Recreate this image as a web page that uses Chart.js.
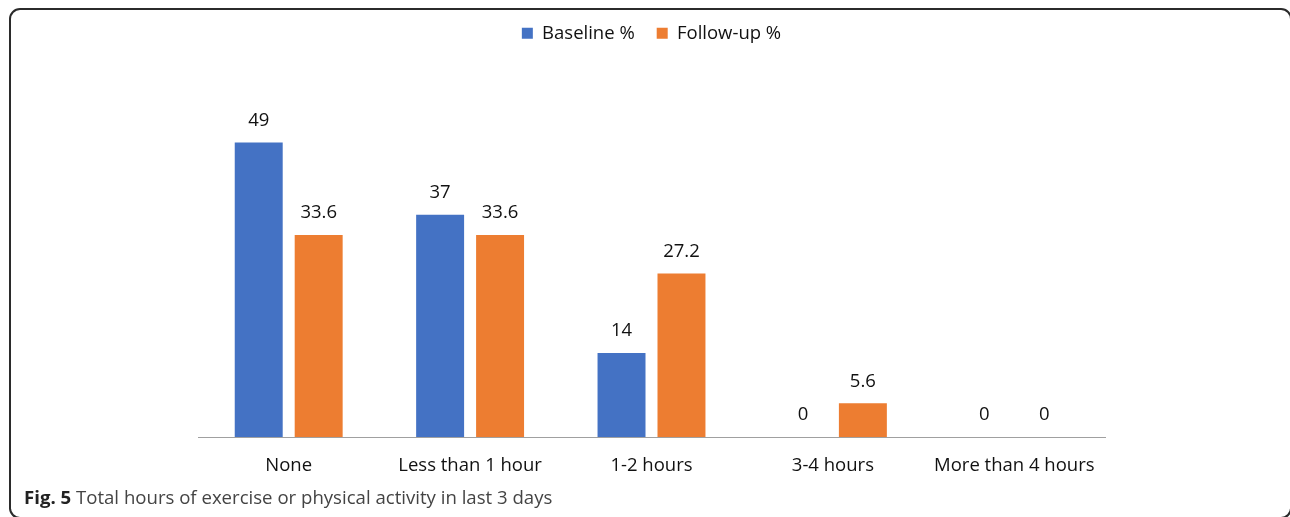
<!DOCTYPE html>
<html>
<head>
<meta charset="utf-8">
<script src="https://cdn.jsdelivr.net/npm/chart.js@4.4.1/dist/chart.umd.min.js"></script>
<style>
  html, body { margin: 0; padding: 0; background: #fff; }
  body { width: 1290px; height: 517px; position: relative; overflow: hidden; }
  .frame {
    position: absolute; left: 9px; top: 8px; width: 1283px; height: 511px;
    border: 2px solid #2b2b2b; border-radius: 11px; box-sizing: border-box;
  }
  #wrap { position: absolute; left: 0; top: 0; width: 1290px; height: 517px; }
  .caption {
    position: absolute; left: 24px; top: 484px;
    font-family: "Open Sans", sans-serif; font-size: 18.6px; color: #444;
    white-space: nowrap; line-height: 26px;
  }
  .caption b { color: #222; font-weight: 700; }
</style>
</head>
<body>
<div class="frame"></div>
<div id="wrap"><canvas id="c" width="1290" height="517"></canvas></div>
<div class="caption"><b>Fig. 5</b> Total hours of exercise or physical activity in last 3 days</div>
<script>
const categories = ["None", "Less than 1 hour", "1-2 hours", "3-4 hours", "More than 4 hours"];
const baseline = [49, 37, 14, 0, 0];
const followUp = [33.6, 33.6, 27.2, 5.6, 0];
const seriesNames = ["Baseline %", "Follow-up %"];

const FONT = '"Open Sans", sans-serif';
const FONT_SIZE = 18.5;

// Value labels above each bar
const valueLabels = {
  id: 'valueLabels',
  afterDatasetsDraw(chart) {
    const ctx = chart.ctx;
    ctx.save();
    ctx.font = FONT_SIZE + 'px ' + FONT;
    ctx.fillStyle = '#111';
    ctx.textAlign = 'center';
    ctx.textBaseline = 'middle';
    chart.data.datasets.forEach((ds, i) => {
      chart.getDatasetMeta(i).data.forEach((bar, j) => {
        ctx.fillText(String(ds.data[j]), bar.x, bar.y - 22);
      });
    });
    ctx.restore();
  }
};

// Extra space between the legend and the plot
const legendGap = {
  id: 'legendGap',
  beforeInit(chart) {
    const fit = chart.legend.fit;
    chart.legend.fit = function () {
      fit.bind(chart.legend)();
      this.height += 24;
    };
  }
};

new Chart(document.getElementById('c'), {
  type: 'bar',
  data: {
    labels: categories,
    datasets: [
      { label: seriesNames[0], data: baseline, backgroundColor: '#4472C4' },
      { label: seriesNames[1], data: followUp, backgroundColor: '#ED7D31' }
    ]
  },
  options: {
    responsive: false,
    animation: false,
    layout: { padding: { left: 198, right: 185, top: 2, bottom: 0 } },
    datasets: { bar: { categoryPercentage: 0.661, barPercentage: 0.8 } },
    plugins: {
      legend: {
        position: 'top',
        labels: {
          boxWidth: 11, boxHeight: 11, padding: 22,
          color: '#111', font: { family: FONT, size: FONT_SIZE }
        }
      },
      tooltip: { enabled: false }
    },
    scales: {
      x: {
        grid: { display: false, drawTicks: false },
        border: { display: true, color: '#a0a0a0', width: 1 },
        ticks: { color: '#111', font: { family: FONT, size: FONT_SIZE }, padding: 18, maxRotation: 0, autoSkip: false },
        afterFit(scale) { scale.height = 80; }
      },
      y: {
        display: false,
        min: 0, max: 60
      }
    }
  },
  plugins: [valueLabels, legendGap]
});
</script>
</body>
</html>
